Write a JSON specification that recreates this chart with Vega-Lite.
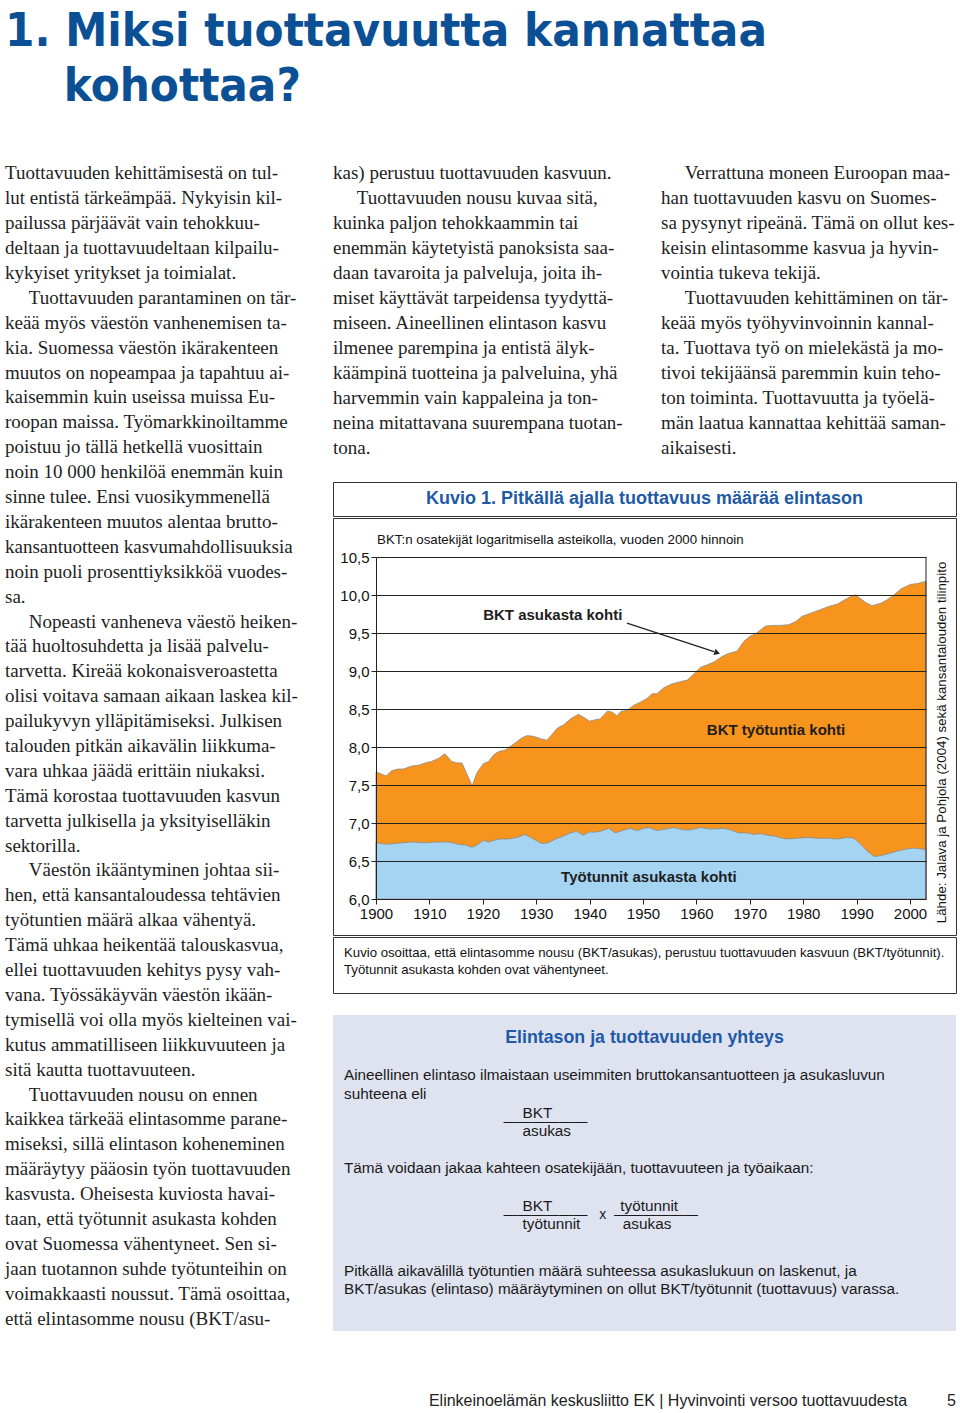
{
  "$schema": "https://vega.github.io/schema/vega-lite/v6.json",
  "background": "white",
  "padding": {"left": 5, "top": 8, "right": 0, "bottom": 0},
  "config": {"view": {"stroke": null}, "font": "Liberation Sans"},
  "title": {
    "text": ["1. Miksi tuottavuutta kannattaa", "\u200b\u00a0\u00a0\u00a0\u00a0kohottaa?"],
    "anchor": "start",
    "frame": "group",
    "font": "Liberation Sans Narrow, DejaVu Sans Condensed, sans-serif",
    "fontSize": 47,
    "fontWeight": "bold",
    "color": "#0b4f95",
    "lineHeight": 55,
    "offset": 50
  },
  "datasets": {
    "bkt": [
      {"vuosi": 1900, "bkt_asukasta_kohti": 7.67}, {"vuosi": 1900.8, "bkt_asukasta_kohti": 7.65}, {"vuosi": 1901.9, "bkt_asukasta_kohti": 7.62},
      {"vuosi": 1903, "bkt_asukasta_kohti": 7.69}, {"vuosi": 1904.2, "bkt_asukasta_kohti": 7.71}, {"vuosi": 1905.1, "bkt_asukasta_kohti": 7.71},
      {"vuosi": 1906.7, "bkt_asukasta_kohti": 7.75}, {"vuosi": 1908, "bkt_asukasta_kohti": 7.76}, {"vuosi": 1909.2, "bkt_asukasta_kohti": 7.79},
      {"vuosi": 1910.4, "bkt_asukasta_kohti": 7.81}, {"vuosi": 1911.7, "bkt_asukasta_kohti": 7.85}, {"vuosi": 1912.9, "bkt_asukasta_kohti": 7.91},
      {"vuosi": 1914.2, "bkt_asukasta_kohti": 7.81}, {"vuosi": 1915.2, "bkt_asukasta_kohti": 7.79}, {"vuosi": 1916.1, "bkt_asukasta_kohti": 7.79},
      {"vuosi": 1918, "bkt_asukasta_kohti": 7.49}, {"vuosi": 1918.9, "bkt_asukasta_kohti": 7.66}, {"vuosi": 1920.1, "bkt_asukasta_kohti": 7.78},
      {"vuosi": 1921.1, "bkt_asukasta_kohti": 7.81}, {"vuosi": 1922.1, "bkt_asukasta_kohti": 7.9}, {"vuosi": 1923, "bkt_asukasta_kohti": 7.94},
      {"vuosi": 1924.2, "bkt_asukasta_kohti": 7.96}, {"vuosi": 1925.4, "bkt_asukasta_kohti": 8.02}, {"vuosi": 1926.4, "bkt_asukasta_kohti": 8.07},
      {"vuosi": 1927.3, "bkt_asukasta_kohti": 8.12}, {"vuosi": 1928.3, "bkt_asukasta_kohti": 8.15}, {"vuosi": 1929.5, "bkt_asukasta_kohti": 8.14},
      {"vuosi": 1930.8, "bkt_asukasta_kohti": 8.11}, {"vuosi": 1932, "bkt_asukasta_kohti": 8.09}, {"vuosi": 1932.9, "bkt_asukasta_kohti": 8.16},
      {"vuosi": 1934, "bkt_asukasta_kohti": 8.25}, {"vuosi": 1935.1, "bkt_asukasta_kohti": 8.29}, {"vuosi": 1936.4, "bkt_asukasta_kohti": 8.37},
      {"vuosi": 1937.9, "bkt_asukasta_kohti": 8.43}, {"vuosi": 1938.9, "bkt_asukasta_kohti": 8.39}, {"vuosi": 1940, "bkt_asukasta_kohti": 8.34},
      {"vuosi": 1941.1, "bkt_asukasta_kohti": 8.36}, {"vuosi": 1942, "bkt_asukasta_kohti": 8.37}, {"vuosi": 1943.3, "bkt_asukasta_kohti": 8.47},
      {"vuosi": 1944.2, "bkt_asukasta_kohti": 8.46}, {"vuosi": 1945.1, "bkt_asukasta_kohti": 8.41}, {"vuosi": 1945.9, "bkt_asukasta_kohti": 8.47},
      {"vuosi": 1947, "bkt_asukasta_kohti": 8.48}, {"vuosi": 1948.3, "bkt_asukasta_kohti": 8.55}, {"vuosi": 1949.5, "bkt_asukasta_kohti": 8.59},
      {"vuosi": 1950.8, "bkt_asukasta_kohti": 8.64}, {"vuosi": 1951.7, "bkt_asukasta_kohti": 8.7}, {"vuosi": 1952.6, "bkt_asukasta_kohti": 8.7},
      {"vuosi": 1953.9, "bkt_asukasta_kohti": 8.78}, {"vuosi": 1955.4, "bkt_asukasta_kohti": 8.83}, {"vuosi": 1957, "bkt_asukasta_kohti": 8.86},
      {"vuosi": 1958.3, "bkt_asukasta_kohti": 8.88}, {"vuosi": 1959.5, "bkt_asukasta_kohti": 8.96}, {"vuosi": 1960.8, "bkt_asukasta_kohti": 9.05},
      {"vuosi": 1962, "bkt_asukasta_kohti": 9.08}, {"vuosi": 1963.3, "bkt_asukasta_kohti": 9.12}, {"vuosi": 1964.8, "bkt_asukasta_kohti": 9.19},
      {"vuosi": 1966, "bkt_asukasta_kohti": 9.23}, {"vuosi": 1967.6, "bkt_asukasta_kohti": 9.26}, {"vuosi": 1968.9, "bkt_asukasta_kohti": 9.39},
      {"vuosi": 1970.1, "bkt_asukasta_kohti": 9.46}, {"vuosi": 1971.1, "bkt_asukasta_kohti": 9.49}, {"vuosi": 1972, "bkt_asukasta_kohti": 9.54},
      {"vuosi": 1972.9, "bkt_asukasta_kohti": 9.59}, {"vuosi": 1974.2, "bkt_asukasta_kohti": 9.6}, {"vuosi": 1975.8, "bkt_asukasta_kohti": 9.6},
      {"vuosi": 1977.3, "bkt_asukasta_kohti": 9.61}, {"vuosi": 1978.6, "bkt_asukasta_kohti": 9.65}, {"vuosi": 1979.8, "bkt_asukasta_kohti": 9.72},
      {"vuosi": 1981.4, "bkt_asukasta_kohti": 9.76}, {"vuosi": 1983.3, "bkt_asukasta_kohti": 9.81}, {"vuosi": 1984.8, "bkt_asukasta_kohti": 9.85},
      {"vuosi": 1986.4, "bkt_asukasta_kohti": 9.88}, {"vuosi": 1987.6, "bkt_asukasta_kohti": 9.93}, {"vuosi": 1988.9, "bkt_asukasta_kohti": 9.98},
      {"vuosi": 1989.8, "bkt_asukasta_kohti": 10.0}, {"vuosi": 1990.4, "bkt_asukasta_kohti": 9.97}, {"vuosi": 1991.7, "bkt_asukasta_kohti": 9.9},
      {"vuosi": 1992.9, "bkt_asukasta_kohti": 9.86}, {"vuosi": 1994.5, "bkt_asukasta_kohti": 9.89}, {"vuosi": 1995.8, "bkt_asukasta_kohti": 9.94},
      {"vuosi": 1997, "bkt_asukasta_kohti": 10.0}, {"vuosi": 1998.3, "bkt_asukasta_kohti": 10.08}, {"vuosi": 2000.1, "bkt_asukasta_kohti": 10.14},
      {"vuosi": 2001.4, "bkt_asukasta_kohti": 10.15}, {"vuosi": 2003, "bkt_asukasta_kohti": 10.18}
    ],
    "tunnit": [
      {"vuosi": 1900, "tyotunnit_asukasta_kohti": 6.74}, {"vuosi": 1902, "tyotunnit_asukasta_kohti": 6.72}, {"vuosi": 1905.1, "tyotunnit_asukasta_kohti": 6.74},
      {"vuosi": 1907, "tyotunnit_asukasta_kohti": 6.75}, {"vuosi": 1909.2, "tyotunnit_asukasta_kohti": 6.74}, {"vuosi": 1911.4, "tyotunnit_asukasta_kohti": 6.75},
      {"vuosi": 1913.6, "tyotunnit_asukasta_kohti": 6.75}, {"vuosi": 1915.4, "tyotunnit_asukasta_kohti": 6.72}, {"vuosi": 1916.7, "tyotunnit_asukasta_kohti": 6.71},
      {"vuosi": 1918, "tyotunnit_asukasta_kohti": 6.68}, {"vuosi": 1918.9, "tyotunnit_asukasta_kohti": 6.71}, {"vuosi": 1920.1, "tyotunnit_asukasta_kohti": 6.77},
      {"vuosi": 1921.1, "tyotunnit_asukasta_kohti": 6.75}, {"vuosi": 1923, "tyotunnit_asukasta_kohti": 6.79}, {"vuosi": 1924.8, "tyotunnit_asukasta_kohti": 6.79},
      {"vuosi": 1926.4, "tyotunnit_asukasta_kohti": 6.81}, {"vuosi": 1927.9, "tyotunnit_asukasta_kohti": 6.85}, {"vuosi": 1929.5, "tyotunnit_asukasta_kohti": 6.79},
      {"vuosi": 1931, "tyotunnit_asukasta_kohti": 6.73}, {"vuosi": 1932.3, "tyotunnit_asukasta_kohti": 6.74}, {"vuosi": 1933.6, "tyotunnit_asukasta_kohti": 6.79},
      {"vuosi": 1934.8, "tyotunnit_asukasta_kohti": 6.82}, {"vuosi": 1936.4, "tyotunnit_asukasta_kohti": 6.87}, {"vuosi": 1937.6, "tyotunnit_asukasta_kohti": 6.89},
      {"vuosi": 1938.9, "tyotunnit_asukasta_kohti": 6.84}, {"vuosi": 1939.8, "tyotunnit_asukasta_kohti": 6.88}, {"vuosi": 1941.1, "tyotunnit_asukasta_kohti": 6.88},
      {"vuosi": 1942, "tyotunnit_asukasta_kohti": 6.89}, {"vuosi": 1943.6, "tyotunnit_asukasta_kohti": 6.93}, {"vuosi": 1944.8, "tyotunnit_asukasta_kohti": 6.87},
      {"vuosi": 1946.1, "tyotunnit_asukasta_kohti": 6.9}, {"vuosi": 1947.6, "tyotunnit_asukasta_kohti": 6.93}, {"vuosi": 1948.9, "tyotunnit_asukasta_kohti": 6.9},
      {"vuosi": 1950.1, "tyotunnit_asukasta_kohti": 6.93}, {"vuosi": 1951.2, "tyotunnit_asukasta_kohti": 6.94}, {"vuosi": 1952.6, "tyotunnit_asukasta_kohti": 6.9},
      {"vuosi": 1954.2, "tyotunnit_asukasta_kohti": 6.92}, {"vuosi": 1955.8, "tyotunnit_asukasta_kohti": 6.94}, {"vuosi": 1957.6, "tyotunnit_asukasta_kohti": 6.91},
      {"vuosi": 1958.9, "tyotunnit_asukasta_kohti": 6.91}, {"vuosi": 1960.8, "tyotunnit_asukasta_kohti": 6.94}, {"vuosi": 1962.6, "tyotunnit_asukasta_kohti": 6.92},
      {"vuosi": 1965.1, "tyotunnit_asukasta_kohti": 6.93}, {"vuosi": 1966.4, "tyotunnit_asukasta_kohti": 6.91}, {"vuosi": 1967.9, "tyotunnit_asukasta_kohti": 6.87},
      {"vuosi": 1969.5, "tyotunnit_asukasta_kohti": 6.87}, {"vuosi": 1970.8, "tyotunnit_asukasta_kohti": 6.85}, {"vuosi": 1972, "tyotunnit_asukasta_kohti": 6.86},
      {"vuosi": 1973.3, "tyotunnit_asukasta_kohti": 6.84}, {"vuosi": 1974.5, "tyotunnit_asukasta_kohti": 6.83}, {"vuosi": 1976.1, "tyotunnit_asukasta_kohti": 6.8},
      {"vuosi": 1977.3, "tyotunnit_asukasta_kohti": 6.79}, {"vuosi": 1978.9, "tyotunnit_asukasta_kohti": 6.8}, {"vuosi": 1980.8, "tyotunnit_asukasta_kohti": 6.81},
      {"vuosi": 1982.6, "tyotunnit_asukasta_kohti": 6.8}, {"vuosi": 1984.5, "tyotunnit_asukasta_kohti": 6.8}, {"vuosi": 1986.4, "tyotunnit_asukasta_kohti": 6.79},
      {"vuosi": 1988.3, "tyotunnit_asukasta_kohti": 6.81}, {"vuosi": 1989.5, "tyotunnit_asukasta_kohti": 6.8}, {"vuosi": 1990.8, "tyotunnit_asukasta_kohti": 6.72},
      {"vuosi": 1992, "tyotunnit_asukasta_kohti": 6.63}, {"vuosi": 1993.3, "tyotunnit_asukasta_kohti": 6.56}, {"vuosi": 1994.5, "tyotunnit_asukasta_kohti": 6.57},
      {"vuosi": 1996.1, "tyotunnit_asukasta_kohti": 6.6}, {"vuosi": 1997.6, "tyotunnit_asukasta_kohti": 6.63}, {"vuosi": 1999.5, "tyotunnit_asukasta_kohti": 6.66},
      {"vuosi": 2000.8, "tyotunnit_asukasta_kohti": 6.67}, {"vuosi": 2003, "tyotunnit_asukasta_kohti": 6.65}
    ],
    "sarake1": [
      {"rivi": 1, "teksti": "Tuottavuuden kehittämisestä on tul-"},
      {"rivi": 2, "teksti": "lut entistä tärkeämpää. Nykyisin kil-"},
      {"rivi": 3, "teksti": "pailussa pärjäävät vain tehokkuu-"},
      {"rivi": 4, "teksti": "deltaan ja tuottavuudeltaan kilpailu-"},
      {"rivi": 5, "teksti": "kykyiset yritykset ja toimialat."},
      {"rivi": 6, "teksti": "\u200b\u00a0\u00a0\u00a0\u00a0\u00a0Tuottavuuden parantaminen on tär-"},
      {"rivi": 7, "teksti": "keää myös väestön vanhenemisen ta-"},
      {"rivi": 8, "teksti": "kia. Suomessa väestön ikärakenteen"},
      {"rivi": 9, "teksti": "muutos on nopeampaa ja tapahtuu ai-"},
      {"rivi": 10, "teksti": "kaisemmin kuin useissa muissa Eu-"},
      {"rivi": 11, "teksti": "roopan maissa. Työmarkkinoiltamme"},
      {"rivi": 12, "teksti": "poistuu jo tällä hetkellä vuosittain"},
      {"rivi": 13, "teksti": "noin 10 000 henkilöä enemmän kuin"},
      {"rivi": 14, "teksti": "sinne tulee. Ensi vuosikymmenellä"},
      {"rivi": 15, "teksti": "ikärakenteen muutos alentaa brutto-"},
      {"rivi": 16, "teksti": "kansantuotteen kasvumahdollisuuksia"},
      {"rivi": 17, "teksti": "noin puoli prosenttiyksikköä vuodes-"},
      {"rivi": 18, "teksti": "sa."},
      {"rivi": 19, "teksti": "\u200b\u00a0\u00a0\u00a0\u00a0\u00a0Nopeasti vanheneva väestö heiken-"},
      {"rivi": 20, "teksti": "tää huoltosuhdetta ja lisää palvelu-"},
      {"rivi": 21, "teksti": "tarvetta. Kireää kokonaisveroastetta"},
      {"rivi": 22, "teksti": "olisi voitava samaan aikaan laskea kil-"},
      {"rivi": 23, "teksti": "pailukyvyn ylläpitämiseksi. Julkisen"},
      {"rivi": 24, "teksti": "talouden pitkän aikavälin liikkuma-"},
      {"rivi": 25, "teksti": "vara uhkaa jäädä erittäin niukaksi."},
      {"rivi": 26, "teksti": "Tämä korostaa tuottavuuden kasvun"},
      {"rivi": 27, "teksti": "tarvetta julkisella ja yksityiselläkin"},
      {"rivi": 28, "teksti": "sektorilla."},
      {"rivi": 29, "teksti": "\u200b\u00a0\u00a0\u00a0\u00a0\u00a0Väestön ikääntyminen johtaa sii-"},
      {"rivi": 30, "teksti": "hen, että kansantaloudessa tehtävien"},
      {"rivi": 31, "teksti": "työtuntien määrä alkaa vähentyä."},
      {"rivi": 32, "teksti": "Tämä uhkaa heikentää talouskasvua,"},
      {"rivi": 33, "teksti": "ellei tuottavuuden kehitys pysy vah-"},
      {"rivi": 34, "teksti": "vana. Työssäkäyvän väestön ikään-"},
      {"rivi": 35, "teksti": "tymisellä voi olla myös kielteinen vai-"},
      {"rivi": 36, "teksti": "kutus ammatilliseen liikkuvuuteen ja"},
      {"rivi": 37, "teksti": "sitä kautta tuottavuuteen."},
      {"rivi": 38, "teksti": "\u200b\u00a0\u00a0\u00a0\u00a0\u00a0Tuottavuuden nousu on ennen"},
      {"rivi": 39, "teksti": "kaikkea tärkeää elintasomme parane-"},
      {"rivi": 40, "teksti": "miseksi, sillä elintason koheneminen"},
      {"rivi": 41, "teksti": "määräytyy pääosin työn tuottavuuden"},
      {"rivi": 42, "teksti": "kasvusta. Oheisesta kuviosta havai-"},
      {"rivi": 43, "teksti": "taan, että työtunnit asukasta kohden"},
      {"rivi": 44, "teksti": "ovat Suomessa vähentyneet. Sen si-"},
      {"rivi": 45, "teksti": "jaan tuotannon suhde työtunteihin on"},
      {"rivi": 46, "teksti": "voimakkaasti noussut. Tämä osoittaa,"},
      {"rivi": 47, "teksti": "että elintasomme nousu (BKT/asu-"}
    ],
    "sarake2": [
      {"rivi": 1, "teksti": "kas) perustuu tuottavuuden kasvuun."},
      {"rivi": 2, "teksti": "\u200b\u00a0\u00a0\u00a0\u00a0\u00a0Tuottavuuden nousu kuvaa sitä,"},
      {"rivi": 3, "teksti": "kuinka paljon tehokkaammin tai"},
      {"rivi": 4, "teksti": "enemmän käytetyistä panoksista saa-"},
      {"rivi": 5, "teksti": "daan tavaroita ja palveluja, joita ih-"},
      {"rivi": 6, "teksti": "miset käyttävät tarpeidensa tyydyttä-"},
      {"rivi": 7, "teksti": "miseen. Aineellinen elintason kasvu"},
      {"rivi": 8, "teksti": "ilmenee parempina ja entistä älyk-"},
      {"rivi": 9, "teksti": "käämpinä tuotteina ja palveluina, yhä"},
      {"rivi": 10, "teksti": "harvemmin vain kappaleina ja ton-"},
      {"rivi": 11, "teksti": "neina mitattavana suurempana tuotan-"},
      {"rivi": 12, "teksti": "tona."}
    ],
    "sarake3": [
      {"rivi": 1, "teksti": "\u200b\u00a0\u00a0\u00a0\u00a0\u00a0Verrattuna moneen Euroopan maa-"},
      {"rivi": 2, "teksti": "han tuottavuuden kasvu on Suomes-"},
      {"rivi": 3, "teksti": "sa pysynyt ripeänä. Tämä on ollut kes-"},
      {"rivi": 4, "teksti": "keisin elintasomme kasvua ja hyvin-"},
      {"rivi": 5, "teksti": "vointia tukeva tekijä."},
      {"rivi": 6, "teksti": "\u200b\u00a0\u00a0\u00a0\u00a0\u00a0Tuottavuuden kehittäminen on tär-"},
      {"rivi": 7, "teksti": "keää myös työhyvinvoinnin kannal-"},
      {"rivi": 8, "teksti": "ta. Tuottava työ on mielekästä ja mo-"},
      {"rivi": 9, "teksti": "tivoi tekijäänsä paremmin kuin teho-"},
      {"rivi": 10, "teksti": "ton toiminta. Tuottavuutta ja työelä-"},
      {"rivi": 11, "teksti": "män laatua kannattaa kehittää saman-"},
      {"rivi": 12, "teksti": "aikaisesti."}
    ],
    "laatikko": [
      {"rivi": 6, "teksti": "Aineellinen elintaso ilmaistaan useimmiten bruttokansantuotteen ja asukasluvun"},
      {"rivi": 8, "teksti": "suhteena eli"},
      {"rivi": 10, "teksti": "\u200b\u00a0\u00a0\u00a0\u00a0\u00a0\u00a0\u00a0\u00a0\u00a0\u00a0\u00a0\u00a0\u00a0\u00a0\u00a0\u00a0\u00a0\u00a0\u00a0\u00a0\u00a0\u00a0\u00a0\u00a0\u00a0\u00a0\u00a0\u00a0\u00a0\u00a0\u00a0\u00a0\u00a0\u00a0\u00a0\u00a0\u00a0\u00a0\u00a0\u00a0\u00a0\u00a0BKT"},
      {"rivi": 12, "teksti": "\u200b\u00a0\u00a0\u00a0\u00a0\u00a0\u00a0\u00a0\u00a0\u00a0\u00a0\u00a0\u00a0\u00a0\u00a0\u00a0\u00a0\u00a0\u00a0\u00a0\u00a0\u00a0\u00a0\u00a0\u00a0\u00a0\u00a0\u00a0\u00a0\u00a0\u00a0\u00a0\u00a0\u00a0\u00a0\u00a0\u00a0\u00a0\u00a0\u00a0\u00a0\u00a0\u00a0asukas"},
      {"rivi": 16, "teksti": "Tämä voidaan jakaa kahteen osatekijään, tuottavuuteen ja työaikaan:"},
      {"rivi": 20, "teksti": "\u200b\u00a0\u00a0\u00a0\u00a0\u00a0\u00a0\u00a0\u00a0\u00a0\u00a0\u00a0\u00a0\u00a0\u00a0\u00a0\u00a0\u00a0\u00a0\u00a0\u00a0\u00a0\u00a0\u00a0\u00a0\u00a0\u00a0\u00a0\u00a0\u00a0\u00a0\u00a0\u00a0\u00a0\u00a0\u00a0\u00a0\u00a0\u00a0\u00a0\u00a0\u00a0\u00a0BKT\u00a0\u00a0\u00a0\u00a0\u00a0\u00a0\u00a0\u00a0\u00a0\u00a0\u00a0\u00a0\u00a0\u00a0\u00a0\u00a0työtunnit"},
      {"rivi": 22, "teksti": "\u200b\u00a0\u00a0\u00a0\u00a0\u00a0\u00a0\u00a0\u00a0\u00a0\u00a0\u00a0\u00a0\u00a0\u00a0\u00a0\u00a0\u00a0\u00a0\u00a0\u00a0\u00a0\u00a0\u00a0\u00a0\u00a0\u00a0\u00a0\u00a0\u00a0\u00a0\u00a0\u00a0\u00a0\u00a0\u00a0\u00a0\u00a0\u00a0\u00a0\u00a0\u00a0\u00a0työtunnit\u00a0\u00a0\u00a0\u00a0\u00a0\u00a0\u00a0\u00a0\u00a0\u00a0asukas"},
      {"rivi": 27, "teksti": "Pitkällä aikavälillä työtuntien määrä suhteessa asukaslukuun on laskenut, ja"},
      {"rivi": 29, "teksti": "BKT/asukas (elintaso) määräytyminen on ollut BKT/työtunnit (tuottavuus) varassa."}
    ],
    "murtoviivat": [
      {"rivi": 11, "teksti": "\u200b\u00a0\u00a0\u00a0\u00a0\u00a0\u00a0\u00a0\u00a0\u00a0\u00a0\u00a0\u00a0\u00a0\u00a0\u00a0\u00a0\u00a0\u00a0\u00a0\u00a0\u00a0\u00a0\u00a0\u00a0\u00a0\u00a0\u00a0\u00a0\u00a0\u00a0\u00a0\u00a0\u00a0\u00a0\u00a0\u00a0\u00a0\u00a0\u00a0\u00a0\u00a0\u2014\u2014\u2014\u2014\u2014\u2014"},
      {"rivi": 21, "teksti": "\u200b\u00a0\u00a0\u00a0\u00a0\u00a0\u00a0\u00a0\u00a0\u00a0\u00a0\u00a0\u00a0\u00a0\u00a0\u00a0\u00a0\u00a0\u00a0\u00a0\u00a0\u00a0\u00a0\u00a0\u00a0\u00a0\u00a0\u00a0\u00a0\u00a0\u00a0\u00a0\u00a0\u00a0\u00a0\u00a0\u00a0\u00a0\u00a0\u00a0\u00a0\u00a0\u2014\u2014\u2014\u2014\u2014\u2014\u00a0\u00a0\u00a0x\u00a0\u00a0\u2014\u2014\u2014\u2014\u2014\u2014"}
    ]
  },
  "spacing": 27,
  "hconcat": [
    {
      "width": 300,
      "height": 1170,
      "data": {"name": "sarake1"},
      "mark": {"type": "text", "align": "left", "baseline": "middle", "font": "Liberation Serif", "fontSize": 19, "color": "#1e1e1e"},
      "encoding": {
        "y": {"field": "rivi", "type": "ordinal", "axis": null, "scale": {"type": "point", "padding": 0.5}},
        "x": {"value": 0},
        "text": {"field": "teksti"}
      }
    },
    {
      "spacing": 21,
      "vconcat": [
        {
          "spacing": 28,
          "hconcat": [
            {
              "width": 300,
              "height": 299,
              "data": {"name": "sarake2"},
              "mark": {"type": "text", "align": "left", "baseline": "middle", "font": "Liberation Serif", "fontSize": 19, "color": "#1e1e1e"},
              "encoding": {
                "y": {"field": "rivi", "type": "ordinal", "axis": null, "scale": {"type": "point", "padding": 0.5}},
                "x": {"value": 0},
                "text": {"field": "teksti"}
              }
            },
            {
              "width": 295,
              "height": 299,
              "data": {"name": "sarake3"},
              "mark": {"type": "text", "align": "left", "baseline": "middle", "font": "Liberation Serif", "fontSize": 19, "color": "#1e1e1e"},
              "encoding": {
                "y": {"field": "rivi", "type": "ordinal", "axis": null, "scale": {"type": "point", "padding": 0.5}},
                "x": {"value": 0},
                "text": {"field": "teksti"}
              }
            }
          ]
        },
        {
          "spacing": 0,
          "vconcat": [
            {
              "width": 623,
              "height": 34,
              "view": {"stroke": "#333333", "strokeWidth": 1},
              "data": {"values": [{"otsikko": "Kuvio 1. Pitkällä ajalla tuottavuus määrää elintason"}]},
              "mark": {"type": "text", "font": "Liberation Sans", "fontSize": 18, "fontWeight": "bold", "color": "#1f5aa6"},
              "encoding": {"text": {"field": "otsikko"}}
            },
            {
              "width": 623,
              "height": 417,
              "view": {"stroke": "#333333", "strokeWidth": 1},
              "layer": [
                {
                  "data": {"name": "bkt"},
                  "mark": {"type": "area", "color": "#F7941D", "stroke": "#8a8a8a", "strokeWidth": 0.8},
                  "encoding": {
                    "x": {
                      "field": "vuosi", "type": "quantitative", "title": null,
                      "scale": {"domain": [1900, 2003], "range": [43, 593], "nice": false, "zero": false},
                      "axis": {"values": [1900, 1910, 1920, 1930, 1940, 1950, 1960, 1970, 1980, 1990, 2000], "format": "d", "grid": false, "offset": -36, "labelFlush": false, "labelFontSize": 15, "labelColor": "#111111", "labelPadding": 2, "tickSize": 5, "tickColor": "#222222", "domainColor": "#222222", "zindex": 1}
                    },
                    "y": {
                      "field": "bkt_asukasta_kohti", "type": "quantitative", "title": null,
                      "scale": {"domain": [6, 10.5], "range": [381, 39], "nice": false, "zero": false},
                      "axis": {"values": [6, 6.5, 7, 7.5, 8, 8.5, 9, 9.5, 10, 10.5], "labelExpr": "replace(format(datum.value, '.1f'), '.', ',')", "grid": true, "gridColor": "#222222", "gridWidth": 1, "offset": -43, "labelFlush": false, "labelFontSize": 15, "labelColor": "#111111", "labelPadding": 2, "tickSize": 5, "tickColor": "#222222", "domainColor": "#222222", "zindex": 1}
                    },
                    "y2": {"datum": 6}
                  }
                },
                {
                  "data": {"name": "tunnit"},
                  "mark": {"type": "area", "color": "#A5D4F3", "stroke": "#8a8a8a", "strokeWidth": 0.8},
                  "encoding": {
                    "x": {"field": "vuosi", "type": "quantitative", "title": null},
                    "y": {"field": "tyotunnit_asukasta_kohti", "type": "quantitative", "title": null},
                    "y2": {"datum": 6}
                  }
                },
                {
                  "data": {"values": [{}]},
                  "mark": {"type": "rule", "color": "#222222", "strokeWidth": 1},
                  "encoding": {"x": {"datum": 2003}, "y": {"datum": 6}, "y2": {"datum": 10.5}}
                },
                {
                  "data": {"values": [{}]},
                  "mark": {"type": "rule", "color": "#222222", "strokeWidth": 1.2},
                  "encoding": {"x": {"datum": 1947}, "y": {"datum": 9.63}, "x2": {"datum": 1963.3}, "y2": {"datum": 9.255}}
                },
                {
                  "data": {"values": [{}]},
                  "mark": {"type": "point", "shape": "triangle-right", "filled": true, "size": 45, "angle": 18, "color": "#222222", "opacity": 1},
                  "encoding": {"x": {"datum": 1963.9}, "y": {"datum": 9.24}}
                },
                {
                  "data": {"values": [{}]},
                  "mark": {"type": "text", "fontSize": 15, "fontWeight": "bold", "color": "#1e1e1e"},
                  "encoding": {"x": {"datum": 1933.1}, "y": {"datum": 9.737}, "text": {"value": "BKT asukasta kohti"}}
                },
                {
                  "data": {"values": [{}]},
                  "mark": {"type": "text", "fontSize": 15, "fontWeight": "bold", "color": "#1e1e1e"},
                  "encoding": {"x": {"datum": 1974.9}, "y": {"datum": 8.224}, "text": {"value": "BKT työtuntia kohti"}}
                },
                {
                  "data": {"values": [{}]},
                  "mark": {"type": "text", "fontSize": 15, "fontWeight": "bold", "color": "#1e1e1e"},
                  "encoding": {"x": {"datum": 1951.1}, "y": {"datum": 6.289}, "text": {"value": "Työtunnit asukasta kohti"}}
                },
                {
                  "data": {"values": [{}]},
                  "mark": {"type": "text", "align": "left", "fontSize": 13.3, "color": "#111111"},
                  "encoding": {"x": {"datum": 1900.2}, "y": {"datum": 10.73}, "text": {"value": "BKT:n osatekijät logaritmisella asteikolla, vuoden 2000 hinnoin"}}
                },
                {
                  "data": {"values": [{}]},
                  "mark": {"type": "text", "angle": 270, "fontSize": 13.3, "color": "#111111"},
                  "encoding": {"x": {"datum": 2006.0}, "y": {"datum": 8.06}, "text": {"value": "Lähde: Jalava ja Pohjola (2004) sekä kansantalouden tilinpito"}}
                }
              ]
            },
            {
              "width": 623,
              "height": 56,
              "view": {"stroke": "#333333", "strokeWidth": 1},
              "data": {"values": []},
              "mark": "text",
              "title": {
                "text": ["Kuvio osoittaa, että elintasomme nousu (BKT/asukas), perustuu tuottavuuden kasvuun (BKT/työtunnit).", "Työtunnit asukasta kohden ovat vähentyneet."],
                "orient": "bottom",
                "anchor": "start",
                "frame": "group",
                "offset": -46,
                "dx": 11,
                "font": "Liberation Sans",
                "fontSize": 13.2,
                "fontWeight": "normal",
                "color": "#111111",
                "lineHeight": 17
              }
            }
          ]
        },
        {
          "width": 623,
          "height": 316,
          "view": {"fill": "#dfe3f0", "stroke": null},
          "title": {
            "text": "Elinkeinoelämän keskusliitto EK | Hyvinvointi versoo tuottavuudesta\u00a0\u00a0\u00a0\u00a0\u00a0\u00a0\u00a0\u00a0\u00a05",
            "orient": "bottom",
            "anchor": "end",
            "frame": "group",
            "offset": 62,
            "font": "Liberation Sans",
            "fontSize": 16,
            "fontWeight": "normal",
            "color": "#222222"
          },
          "layer": [
            {
              "data": {"values": [{"rivi": 2, "teksti": "Elintason ja tuottavuuden yhteys"}]},
              "mark": {"type": "text", "font": "Liberation Sans", "fontSize": 17.8, "fontWeight": "bold", "color": "#1f5aa6"},
              "encoding": {
                "y": {"field": "rivi", "type": "ordinal", "axis": null, "scale": {"type": "point", "padding": 0.5, "domain": [0,1,2,3,4,5,6,7,8,9,10,11,12,13,14,15,16,17,18,19,20,21,22,23,24,25,26,27,28,29,30,31,32,33]}},
                "text": {"field": "teksti"}
              }
            },
            {
              "data": {"name": "laatikko"},
              "mark": {"type": "text", "align": "left", "baseline": "middle", "font": "Liberation Sans", "fontSize": 15.3, "color": "#1a1a1a"},
              "encoding": {
                "y": {"field": "rivi", "type": "ordinal", "axis": null},
                "x": {"value": 11},
                "text": {"field": "teksti"}
              }
            },
            {
              "data": {"name": "murtoviivat"},
              "mark": {"type": "text", "align": "left", "baseline": "middle", "font": "Liberation Sans", "fontSize": 14, "color": "#1a1a1a"},
              "encoding": {
                "y": {"field": "rivi", "type": "ordinal", "axis": null},
                "x": {"value": 11},
                "text": {"field": "teksti"}
              }
            }
          ]
        }
      ]
    }
  ]
}
